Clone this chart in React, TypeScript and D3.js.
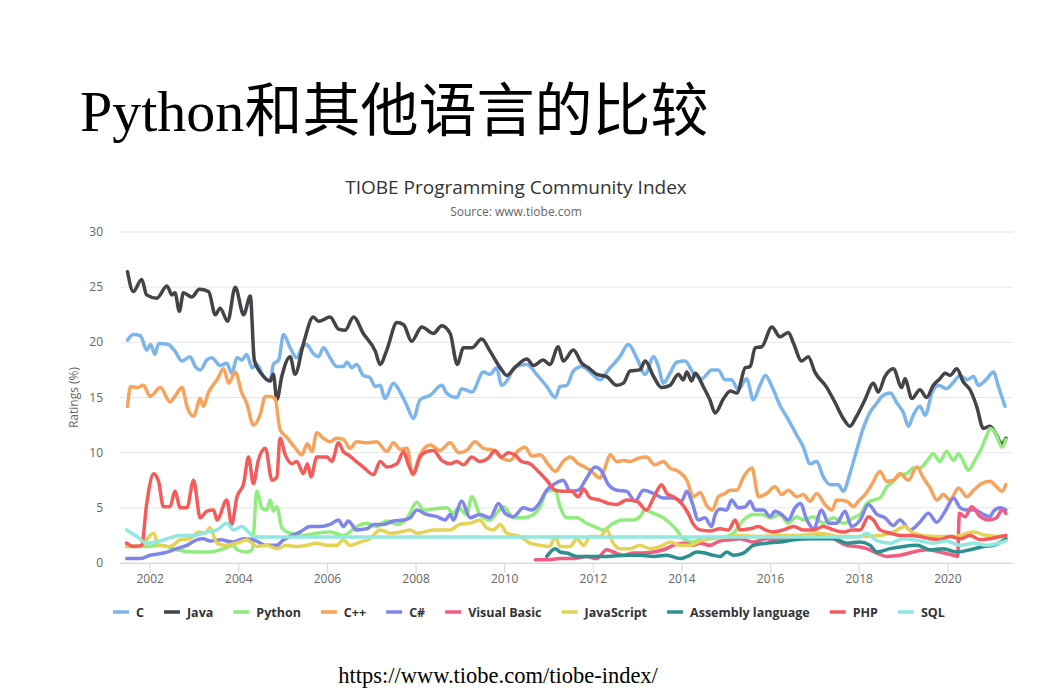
import React from "react";
import * as d3 from "d3";

// TIOBE index readings, [year, rating %]
const cData: [number, number][] = [
  [2001.49, 20.2], [2001.62, 20.7], [2001.78, 20.6], [2001.92, 19.3], [2002.01, 19.8], [2002.11, 18.9],
  [2002.19, 19.9], [2002.41, 19.8], [2002.56, 19.2], [2002.72, 18.3], [2002.9, 18.7], [2003.02, 17.8],
  [2003.13, 17.5], [2003.28, 18.4], [2003.39, 18.6], [2003.58, 17.9], [2003.73, 18.1], [2003.84, 17.2],
  [2003.96, 18.6], [2004.07, 18.4], [2004.18, 18.9], [2004.3, 17.7], [2004.41, 18.0], [2004.56, 16.9],
  [2004.71, 16.5], [2004.78, 18.0], [2004.9, 18.4], [2005.01, 20.7], [2005.16, 19.5], [2005.31, 18.6],
  [2005.42, 19.5], [2005.53, 19.8], [2005.68, 19.0], [2005.8, 18.7], [2005.91, 19.5], [2006.06, 18.6],
  [2006.21, 17.8], [2006.36, 17.8], [2006.44, 18.2], [2006.55, 17.7], [2006.66, 18.0], [2006.81, 17.0],
  [2006.96, 16.8], [2007.08, 16.0], [2007.19, 16.1], [2007.3, 14.9], [2007.49, 16.3], [2007.64, 15.5],
  [2007.79, 14.3], [2007.94, 13.1], [2008.09, 14.8], [2008.32, 15.2], [2008.58, 16.1], [2008.69, 15.4],
  [2008.92, 15.0], [2009.03, 15.8], [2009.26, 15.5], [2009.52, 17.3], [2009.67, 17.1], [2009.82, 17.7],
  [2009.93, 16.1], [2010.08, 16.7], [2010.23, 17.8], [2010.5, 18.0], [2010.72, 17.1], [2010.95, 16.0],
  [2011.14, 15.0], [2011.25, 16.0], [2011.4, 16.1], [2011.55, 17.4], [2011.74, 17.8], [2011.96, 17.2],
  [2012.15, 16.6], [2012.34, 17.5], [2012.6, 18.7], [2012.79, 19.8], [2012.98, 18.6], [2013.17, 17.1],
  [2013.36, 18.7], [2013.47, 17.8], [2013.58, 16.3], [2013.73, 17.2], [2013.88, 18.2], [2014.07, 18.3],
  [2014.26, 17.2], [2014.45, 16.7], [2014.67, 17.5], [2014.82, 17.5], [2014.97, 16.6], [2015.12, 16.6],
  [2015.27, 15.7], [2015.46, 16.7], [2015.61, 14.8], [2015.76, 16.1], [2015.88, 17.0], [2016.03, 16.0],
  [2016.21, 14.3], [2016.4, 13.0], [2016.59, 11.6], [2016.74, 10.5], [2016.89, 9.0], [2017.04, 9.2],
  [2017.19, 7.8], [2017.34, 7.1], [2017.53, 7.1], [2017.64, 6.5], [2017.79, 8.1], [2017.94, 10.2],
  [2018.09, 12.2], [2018.25, 13.7], [2018.4, 14.5], [2018.51, 15.1], [2018.7, 15.4], [2018.85, 14.5],
  [2019.0, 13.6], [2019.11, 12.4], [2019.22, 13.4], [2019.37, 14.2], [2019.49, 13.4], [2019.64, 15.4],
  [2019.79, 16.1], [2019.97, 15.8], [2020.13, 16.4], [2020.28, 17.0], [2020.43, 16.6], [2020.58, 16.9],
  [2020.69, 16.1], [2020.88, 16.7], [2021.03, 17.3], [2021.14, 16.0], [2021.29, 14.2],
];

const javaData: [number, number][] = [
  [2001.49, 26.4], [2001.62, 24.6], [2001.81, 25.7], [2001.92, 24.3], [2002.15, 24.0], [2002.38, 25.1],
  [2002.49, 24.3], [2002.56, 24.5], [2002.66, 22.8], [2002.75, 24.5], [2002.94, 24.1], [2003.11, 24.8],
  [2003.32, 24.6], [2003.47, 22.5], [2003.58, 23.1], [2003.75, 21.9], [2003.92, 25.0], [2004.11, 22.5],
  [2004.26, 24.2], [2004.35, 18.4], [2004.52, 17.1], [2004.71, 16.5], [2004.78, 17.1], [2004.86, 14.8],
  [2004.97, 16.9], [2005.16, 18.7], [2005.27, 17.1], [2005.46, 19.9], [2005.68, 22.3], [2005.8, 21.9],
  [2006.06, 22.3], [2006.25, 21.2], [2006.4, 21.1], [2006.59, 22.3], [2006.81, 20.8], [2007.08, 19.2],
  [2007.19, 18.0], [2007.34, 19.3], [2007.57, 21.8], [2007.72, 21.6], [2007.9, 20.1], [2008.13, 21.4],
  [2008.39, 20.8], [2008.58, 21.5], [2008.77, 20.8], [2008.93, 18.0], [2009.07, 19.5], [2009.26, 19.5],
  [2009.48, 20.3], [2009.67, 19.2], [2009.9, 17.7], [2010.05, 17.0], [2010.23, 17.7], [2010.5, 18.5],
  [2010.65, 17.9], [2010.87, 18.4], [2011.02, 18.0], [2011.21, 19.6], [2011.32, 18.3], [2011.55, 19.3],
  [2011.74, 18.1], [2011.89, 17.7], [2012.08, 17.1], [2012.3, 16.9], [2012.53, 16.1], [2012.68, 16.3],
  [2012.83, 17.4], [2013.05, 17.5], [2013.17, 18.3], [2013.36, 16.9], [2013.54, 15.9], [2013.73, 16.1],
  [2013.92, 17.1], [2014.03, 16.6], [2014.11, 17.3], [2014.22, 16.5], [2014.3, 17.2], [2014.48, 16.0],
  [2014.63, 14.8], [2014.75, 13.6], [2014.94, 14.9], [2015.09, 15.6], [2015.24, 15.4], [2015.43, 17.7],
  [2015.54, 17.8], [2015.65, 19.5], [2015.8, 19.6], [2016.03, 21.4], [2016.21, 20.5], [2016.4, 20.9],
  [2016.52, 19.9], [2016.7, 18.3], [2016.85, 18.7], [2017.0, 17.3], [2017.27, 15.9], [2017.46, 14.5],
  [2017.64, 13.1], [2017.79, 12.4], [2017.94, 13.3], [2018.13, 14.8], [2018.32, 16.3], [2018.43, 15.5],
  [2018.58, 16.9], [2018.77, 17.6], [2018.96, 15.9], [2019.03, 16.7], [2019.19, 14.9], [2019.37, 15.7],
  [2019.52, 15.0], [2019.67, 16.1], [2019.82, 16.7], [2019.94, 17.2], [2020.05, 17.0], [2020.2, 17.6],
  [2020.35, 16.4], [2020.5, 15.7], [2020.65, 14.2], [2020.8, 12.2], [2020.95, 12.4], [2021.1, 11.6],
  [2021.21, 10.8], [2021.31, 11.3],
];

const pythonData: [number, number][] = [
  [2001.47, 1.5], [2001.85, 1.5], [2002.23, 1.6], [2002.6, 1.2], [2002.98, 1.0], [2003.35, 1.0],
  [2003.66, 1.3], [2003.88, 1.6], [2003.96, 1.2], [2004.18, 1.0], [2004.3, 1.2], [2004.41, 6.5],
  [2004.52, 5.0], [2004.63, 4.8], [2004.71, 5.7], [2004.78, 4.7], [2004.86, 5.1], [2004.97, 3.2],
  [2005.16, 2.7], [2005.46, 2.5], [2005.76, 2.7], [2006.06, 2.8], [2006.36, 2.5], [2006.66, 3.3],
  [2006.89, 3.6], [2007.11, 3.3], [2007.34, 3.8], [2007.57, 3.5], [2007.79, 4.0], [2008.02, 5.5],
  [2008.17, 4.8], [2008.39, 4.9], [2008.69, 5.0], [2008.84, 4.5], [2008.96, 5.0], [2009.14, 4.4],
  [2009.26, 6.0], [2009.44, 4.4], [2009.67, 3.9], [2009.82, 4.5], [2009.97, 5.1], [2010.2, 4.1],
  [2010.42, 4.1], [2010.65, 4.4], [2010.8, 5.1], [2010.95, 6.5], [2011.14, 6.6], [2011.25, 5.1],
  [2011.4, 4.1], [2011.63, 4.1], [2011.85, 3.6], [2012.08, 3.2], [2012.23, 3.0], [2012.45, 3.6],
  [2012.68, 3.9], [2012.9, 3.9], [2013.05, 4.2], [2013.17, 4.8], [2013.36, 4.5], [2013.58, 4.1],
  [2013.73, 3.6], [2013.88, 3.0], [2014.03, 2.2], [2014.26, 1.9], [2014.48, 2.3], [2014.71, 2.3],
  [2014.86, 2.3], [2015.16, 2.7], [2015.39, 3.9], [2015.61, 4.4], [2015.8, 4.4], [2015.99, 4.1],
  [2016.21, 4.4], [2016.4, 3.6], [2016.59, 4.2], [2016.74, 3.9], [2016.97, 4.2], [2017.19, 3.6],
  [2017.42, 4.1], [2017.64, 3.6], [2017.87, 4.1], [2018.02, 4.4], [2018.17, 5.4], [2018.32, 5.7],
  [2018.47, 5.9], [2018.62, 6.9], [2018.77, 7.4], [2018.92, 8.0], [2019.07, 8.1], [2019.22, 8.6],
  [2019.37, 8.6], [2019.52, 9.2], [2019.67, 9.9], [2019.82, 9.2], [2019.97, 10.1], [2020.13, 9.3],
  [2020.24, 9.9], [2020.35, 9.2], [2020.46, 8.4], [2020.61, 9.3], [2020.77, 10.5], [2020.88, 11.6],
  [2020.95, 12.2], [2021.07, 11.8], [2021.22, 10.5], [2021.31, 11.2],
];

const cppData: [number, number][] = [
  [2001.49, 14.2], [2001.56, 16.0], [2001.7, 15.9], [2001.85, 16.1], [2002.0, 15.1], [2002.23, 15.9],
  [2002.45, 14.6], [2002.56, 15.1], [2002.72, 15.9], [2002.83, 14.2], [2002.98, 13.3], [2003.13, 14.9],
  [2003.2, 14.2], [2003.32, 15.5], [2003.51, 16.6], [2003.66, 17.6], [2003.77, 16.3], [2003.92, 17.3],
  [2004.07, 15.4], [2004.18, 14.5], [2004.33, 12.5], [2004.48, 13.4], [2004.6, 15.1], [2004.71, 15.1],
  [2004.82, 14.9], [2004.93, 12.1], [2005.08, 11.4], [2005.2, 10.8], [2005.3, 10.3], [2005.42, 9.8],
  [2005.55, 10.8], [2005.65, 10.1], [2005.76, 11.8], [2005.91, 11.3], [2006.06, 11.0], [2006.21, 11.3],
  [2006.36, 11.2], [2006.51, 10.4], [2006.66, 11.0], [2006.89, 10.9], [2007.11, 11.0], [2007.34, 10.1],
  [2007.49, 10.9], [2007.64, 10.3], [2007.8, 10.4], [2007.92, 8.0], [2008.09, 9.8], [2008.32, 10.7],
  [2008.54, 10.2], [2008.77, 10.9], [2008.96, 10.0], [2009.14, 10.2], [2009.33, 11.0], [2009.52, 10.4],
  [2009.75, 10.2], [2009.93, 9.5], [2010.12, 9.3], [2010.31, 10.2], [2010.46, 10.5], [2010.61, 9.7],
  [2010.8, 9.8], [2010.99, 8.9], [2011.14, 8.3], [2011.32, 9.2], [2011.48, 9.6], [2011.66, 9.0],
  [2011.81, 8.7], [2011.96, 8.3], [2012.15, 7.7], [2012.26, 8.6], [2012.38, 9.8], [2012.53, 9.2],
  [2012.68, 9.3], [2012.83, 9.2], [2013.02, 9.5], [2013.2, 9.6], [2013.39, 8.9], [2013.58, 9.2],
  [2013.73, 8.6], [2013.92, 8.3], [2014.11, 7.5], [2014.26, 6.0], [2014.41, 6.4], [2014.56, 5.2],
  [2014.69, 4.8], [2014.82, 6.0], [2014.97, 6.3], [2015.09, 6.6], [2015.24, 6.6], [2015.39, 7.8],
  [2015.58, 8.6], [2015.73, 6.0], [2015.91, 6.3], [2016.1, 6.9], [2016.25, 6.2], [2016.4, 6.6],
  [2016.59, 6.0], [2016.74, 6.2], [2016.89, 5.6], [2017.04, 6.3], [2017.23, 5.3], [2017.38, 4.8],
  [2017.49, 5.7], [2017.72, 5.6], [2017.87, 5.1], [2017.98, 5.6], [2018.13, 6.2], [2018.28, 7.1],
  [2018.47, 8.3], [2018.62, 7.4], [2018.77, 7.5], [2018.92, 8.1], [2019.11, 7.5], [2019.3, 8.7],
  [2019.45, 7.7], [2019.6, 6.8], [2019.75, 5.7], [2019.9, 6.2], [2020.05, 5.7], [2020.24, 6.8],
  [2020.43, 6.0], [2020.58, 6.6], [2020.77, 7.2], [2020.95, 7.4], [2021.1, 6.9], [2021.22, 6.5],
  [2021.31, 7.1],
];

const csharpData: [number, number][] = [
  [2001.47, 0.4], [2001.77, 0.4], [2002.0, 0.7], [2002.3, 0.9], [2002.6, 1.3], [2002.83, 1.6],
  [2003.05, 2.1], [2003.2, 2.2], [2003.35, 2.0], [2003.58, 2.1], [2003.88, 1.9], [2004.11, 2.2],
  [2004.33, 2.1], [2004.63, 1.6], [2004.86, 1.6], [2005.01, 2.1], [2005.2, 2.5], [2005.38, 2.8],
  [2005.61, 3.3], [2005.84, 3.3], [2006.06, 3.5], [2006.25, 3.9], [2006.36, 3.3], [2006.47, 3.8],
  [2006.66, 3.0], [2006.89, 3.1], [2007.04, 3.5], [2007.26, 3.5], [2007.49, 3.8], [2007.72, 3.9],
  [2007.87, 4.1], [2008.02, 4.8], [2008.24, 4.4], [2008.47, 4.2], [2008.66, 3.9], [2008.77, 4.4],
  [2008.84, 3.9], [2009.03, 5.6], [2009.22, 4.1], [2009.44, 4.4], [2009.67, 4.1], [2009.86, 5.4],
  [2010.01, 4.5], [2010.2, 4.2], [2010.42, 5.0], [2010.61, 4.8], [2010.76, 5.3], [2010.95, 6.6],
  [2011.14, 7.2], [2011.32, 7.5], [2011.48, 6.5], [2011.66, 6.6], [2011.85, 7.7], [2012.04, 8.7],
  [2012.19, 8.3], [2012.34, 7.1], [2012.53, 6.6], [2012.75, 6.5], [2012.94, 5.6], [2013.13, 6.6],
  [2013.36, 6.3], [2013.58, 5.9], [2013.81, 5.9], [2013.99, 5.6], [2014.11, 6.5], [2014.22, 5.6],
  [2014.37, 3.9], [2014.52, 4.1], [2014.67, 3.3], [2014.75, 4.4], [2014.86, 4.9], [2015.01, 4.8],
  [2015.12, 5.7], [2015.27, 5.0], [2015.43, 5.1], [2015.54, 5.6], [2015.65, 4.8], [2015.84, 4.8],
  [2015.99, 4.2], [2016.1, 4.7], [2016.25, 4.4], [2016.4, 3.9], [2016.55, 5.0], [2016.67, 5.4],
  [2016.82, 3.9], [2016.97, 3.1], [2017.15, 4.8], [2017.31, 3.6], [2017.49, 3.6], [2017.68, 4.7],
  [2017.83, 3.3], [2018.02, 3.9], [2018.21, 5.3], [2018.4, 4.4], [2018.58, 4.1], [2018.77, 3.4],
  [2018.92, 3.9], [2019.15, 3.0], [2019.37, 3.7], [2019.56, 4.5], [2019.75, 3.7], [2019.94, 4.7],
  [2020.13, 5.9], [2020.28, 5.0], [2020.43, 4.8], [2020.61, 4.8], [2020.8, 4.4], [2020.95, 4.2],
  [2021.03, 4.7], [2021.18, 5.0], [2021.31, 4.8],
];

const vbData: [number, number][] = [
  [2010.69, 0.3], [2010.95, 0.3], [2011.25, 0.4], [2011.55, 0.4], [2011.85, 0.6], [2012.08, 0.4],
  [2012.3, 1.2], [2012.45, 1.0], [2012.68, 0.7], [2012.9, 0.9], [2013.13, 0.9], [2013.36, 1.0],
  [2013.58, 1.2], [2013.81, 1.6], [2014.03, 1.8], [2014.26, 1.6], [2014.41, 1.8], [2014.63, 1.6],
  [2014.86, 2.0], [2015.09, 2.1], [2015.31, 2.2], [2015.61, 1.9], [2015.91, 2.2], [2016.21, 2.1],
  [2016.52, 2.4], [2016.82, 2.2], [2017.12, 2.4], [2017.42, 2.2], [2017.72, 1.6], [2017.94, 1.5],
  [2018.17, 1.3], [2018.4, 0.9], [2018.62, 0.6], [2018.92, 0.7], [2019.22, 1.0], [2019.52, 1.2],
  [2019.82, 1.0], [2020.13, 0.7], [2020.22, 0.6], [2020.26, 4.5], [2020.39, 4.2], [2020.54, 5.1],
  [2020.73, 4.2], [2020.92, 3.9], [2021.1, 4.1], [2021.22, 4.8], [2021.31, 4.5],
];

const jsData: [number, number][] = [
  [2001.47, 1.6], [2001.77, 1.5], [2002.08, 2.7], [2002.19, 1.6], [2002.45, 1.5], [2002.68, 2.1],
  [2002.9, 2.2], [2003.09, 2.8], [2003.24, 2.7], [2003.35, 3.2], [2003.51, 1.8], [2003.69, 1.6],
  [2003.96, 1.8], [2004.18, 2.1], [2004.41, 1.5], [2004.63, 1.6], [2004.86, 1.3], [2005.08, 1.6],
  [2005.31, 1.5], [2005.53, 1.6], [2005.76, 1.8], [2005.99, 1.6], [2006.21, 1.6], [2006.36, 2.1],
  [2006.51, 1.6], [2006.74, 1.9], [2006.96, 2.2], [2007.19, 3.0], [2007.42, 2.7], [2007.64, 2.8],
  [2007.87, 3.0], [2008.02, 2.7], [2008.39, 3.0], [2008.77, 3.0], [2008.99, 3.5], [2009.22, 3.6],
  [2009.44, 3.9], [2009.59, 3.2], [2009.75, 3.0], [2009.9, 3.5], [2010.05, 2.7], [2010.35, 2.4],
  [2010.57, 1.8], [2010.8, 1.6], [2011.02, 1.5], [2011.14, 2.4], [2011.25, 1.5], [2011.48, 1.5],
  [2011.63, 2.2], [2011.78, 1.6], [2011.93, 2.4], [2012.15, 2.4], [2012.3, 3.0], [2012.45, 1.8],
  [2012.6, 1.3], [2012.83, 1.3], [2013.05, 1.6], [2013.28, 1.3], [2013.51, 1.5], [2013.73, 1.9],
  [2013.96, 1.6], [2014.18, 1.6], [2014.41, 2.0], [2014.86, 2.3], [2015.31, 2.5], [2015.76, 2.4],
  [2016.21, 2.5], [2016.66, 2.5], [2017.12, 2.7], [2017.57, 2.4], [2018.02, 2.4], [2018.47, 2.5],
  [2018.77, 2.8], [2019.03, 3.3], [2019.22, 2.7], [2019.67, 2.4], [2020.13, 2.4], [2020.58, 2.8],
  [2020.88, 2.5], [2021.31, 2.4],
];

const asmData: [number, number][] = [
  [2010.95, 0.6], [2011.14, 1.3], [2011.25, 1.0], [2011.4, 0.9], [2011.63, 0.6], [2011.93, 0.6],
  [2012.3, 0.6], [2012.75, 0.7], [2013.05, 0.7], [2013.36, 0.6], [2013.66, 0.7], [2013.96, 0.4],
  [2014.18, 0.7], [2014.33, 1.0], [2014.52, 0.9], [2014.71, 0.7], [2014.86, 0.6], [2015.01, 1.0],
  [2015.16, 0.7], [2015.39, 0.9], [2015.61, 1.6], [2015.91, 1.8], [2016.21, 1.9], [2016.52, 2.1],
  [2016.82, 2.2], [2017.12, 2.2], [2017.42, 2.2], [2017.72, 1.8], [2018.02, 1.9], [2018.25, 1.6],
  [2018.4, 1.0], [2018.7, 1.3], [2019.0, 1.5], [2019.3, 1.6], [2019.6, 1.2], [2019.9, 1.3],
  [2020.2, 1.0], [2020.5, 1.2], [2020.8, 1.5], [2021.03, 1.6], [2021.31, 2.2],
];

const phpData: [number, number][] = [
  [2001.47, 1.8], [2001.62, 1.5], [2001.81, 1.6], [2001.92, 5.3], [2002.08, 8.1], [2002.19, 7.4],
  [2002.3, 5.1], [2002.45, 5.1], [2002.56, 6.5], [2002.68, 5.0], [2002.83, 5.0], [2002.98, 7.5],
  [2003.13, 4.1], [2003.28, 4.7], [2003.43, 4.8], [2003.51, 3.9], [2003.73, 5.7], [2003.84, 3.5],
  [2003.96, 6.0], [2004.11, 7.2], [2004.22, 9.6], [2004.33, 7.2], [2004.44, 9.3], [2004.6, 10.4],
  [2004.75, 7.5], [2004.86, 7.8], [2004.93, 11.3], [2005.05, 9.8], [2005.2, 9.0], [2005.31, 9.2],
  [2005.46, 8.1], [2005.55, 9.0], [2005.63, 7.8], [2005.76, 9.6], [2005.99, 9.6], [2006.1, 9.2],
  [2006.25, 10.9], [2006.36, 10.1], [2006.47, 9.8], [2006.62, 9.3], [2006.81, 8.7], [2007.04, 8.0],
  [2007.19, 9.2], [2007.34, 8.7], [2007.57, 9.0], [2007.72, 10.1], [2007.82, 9.0], [2007.94, 8.1],
  [2008.09, 9.6], [2008.24, 10.1], [2008.39, 10.2], [2008.58, 9.3], [2008.77, 9.0], [2008.92, 9.2],
  [2009.07, 8.9], [2009.26, 9.6], [2009.44, 9.2], [2009.63, 9.5], [2009.78, 10.2], [2009.93, 9.6],
  [2010.08, 10.0], [2010.23, 9.8], [2010.38, 9.2], [2010.57, 9.0], [2010.76, 8.3], [2010.95, 7.5],
  [2011.14, 6.6], [2011.32, 6.5], [2011.51, 6.5], [2011.66, 6.0], [2011.78, 6.7], [2011.93, 5.9],
  [2012.15, 5.7], [2012.34, 5.4], [2012.53, 5.3], [2012.75, 5.7], [2012.98, 5.6], [2013.2, 4.8],
  [2013.36, 5.9], [2013.54, 7.1], [2013.66, 6.3], [2013.81, 6.0], [2013.99, 5.4], [2014.14, 4.5],
  [2014.26, 3.5], [2014.41, 3.0], [2014.63, 2.9], [2014.86, 3.1], [2015.05, 3.0], [2015.2, 3.9],
  [2015.31, 3.0], [2015.54, 3.1], [2015.73, 3.3], [2015.88, 3.0], [2016.06, 2.8], [2016.29, 3.0],
  [2016.52, 3.3], [2016.74, 3.0], [2016.97, 3.0], [2017.19, 3.3], [2017.42, 3.0], [2017.64, 2.8],
  [2017.83, 3.0], [2018.02, 3.0], [2018.21, 4.2], [2018.32, 3.9], [2018.47, 3.0], [2018.7, 2.7],
  [2018.92, 2.5], [2019.15, 2.5], [2019.37, 2.4], [2019.6, 2.2], [2019.82, 2.1], [2020.05, 2.4],
  [2020.28, 2.2], [2020.5, 2.5], [2020.73, 2.1], [2020.95, 2.2], [2021.18, 2.4], [2021.31, 2.5],
];

const sqlData: [number, number][] = [
  [2001.47, 3.0], [2001.7, 2.4], [2001.92, 1.8], [2002.15, 1.9], [2002.38, 2.2], [2002.68, 2.5],
  [2002.98, 2.5], [2003.28, 2.8], [2003.51, 3.0], [2003.73, 3.6], [2003.88, 3.0], [2004.07, 3.3],
  [2004.22, 2.8], [2004.33, 2.4], [2004.45, 2.35], [2018.0, 2.35], [2018.17, 2.7], [2018.4, 2.0],
  [2018.7, 1.8], [2019.0, 2.2], [2019.37, 2.0], [2019.67, 1.8], [2019.97, 2.0], [2020.28, 1.6],
  [2020.58, 1.8], [2020.88, 1.6], [2021.31, 2.0],
];

const seriesNames = ["C", "Java", "Python", "C++", "C#", "Visual Basic", "JavaScript", "Assembly language", "PHP", "SQL"];
const seriesValues = [cData, javaData, pythonData, cppData, csharpData, vbData, jsData, asmData, phpData, sqlData];
const colors = ["#7cb5ec", "#434348", "#90ed7d", "#f7a35c", "#8085e9", "#f15c80", "#e4d354", "#2b908f", "#f45b5b", "#91e8e1"];

const xTicks = [2002, 2004, 2006, 2008, 2010, 2012, 2014, 2016, 2018, 2020];
const yTicks = [0, 5, 10, 15, 20, 25, 30];

const FONT = "'Open Sans', 'DejaVu Sans', sans-serif";

function measure(text: string, font: string) {
  const ctx = document.createElement("canvas").getContext("2d");
  if (!ctx) return text.length * 7;
  ctx.font = font;
  return ctx.measureText(text).width;
}

export default function App() {
  const left = 120;
  const right = 1013;
  const top = 232;
  const bottom = 563;

  const x = d3.scaleLinear().domain([2001.32, 2021.47]).range([left, right]);
  const y = d3.scaleLinear().domain([0, 30]).range([bottom, top]);

  const line = d3
    .line<[number, number]>()
    .x(d => x(d[0]))
    .y(d => y(d[1]))
    .curve(d3.curveMonotoneX);

  // legend layout, left to right
  let lx = 113;
  const legendItems = seriesNames.map((name, i) => {
    const item = { name, color: colors[i], x: lx };
    lx += 16 + 7 + measure(name, `bold 12.5px ${FONT}`) + 20;
    return item;
  });

  return (
    <div style={{ position: "absolute", left: 0, top: 0 }}>
      <svg width={1042} height={695} style={{ display: "block", background: "#fff" }}>
        <text x={80} y={131} fill="#000" fontSize={58}>
          <tspan fontFamily="'Liberation Serif', serif">Python</tspan>
          <tspan fontFamily="'Noto Sans CJK SC', sans-serif">和其他语言的比较</tspan>
        </text>

        <text x={516} y={194} textAnchor="middle" fontFamily={FONT} fontSize={19} fill="#333333">
          TIOBE Programming Community Index
        </text>
        <text x={516} y={216} textAnchor="middle" fontFamily={FONT} fontSize={12} fill="#666666">
          Source: www.tiobe.com
        </text>

        {yTicks.map(v => (
          <g key={v}>
            <line x1={left} x2={right} y1={y(v)} y2={y(v)} stroke="#e6e6e6" strokeWidth={1} />
            <text x={103} y={y(v) + 4} textAnchor="end" fontFamily={FONT} fontSize={12} fill="#666666">
              {v}
            </text>
          </g>
        ))}

        <text
          transform={`translate(78, ${(top + bottom) / 2}) rotate(-90)`}
          textAnchor="middle"
          fontFamily={FONT}
          fontSize={12}
          fill="#666666"
        >
          Ratings (%)
        </text>

        <line x1={left} x2={right} y1={bottom + 0.5} y2={bottom + 0.5} stroke="#ccd6eb" />
        {xTicks.map(v => (
          <g key={v} transform={`translate(${x(v)}, ${bottom})`}>
            <line y1={0} y2={10} stroke="#ccd6eb" />
            <text y={20} textAnchor="middle" fontFamily={FONT} fontSize={12} fill="#666666">
              {v}
            </text>
          </g>
        ))}

        <g fill="none" strokeWidth={3.5} strokeLinejoin="round" strokeLinecap="round">
          {seriesValues.map((d, i) => (
            <path key={seriesNames[i]} d={line(d) || ""} stroke={colors[i]} />
          ))}
        </g>

        {legendItems.map(it => (
          <g key={it.name} transform={`translate(${it.x}, 612)`}>
            <line x1={0} x2={16} y1={0} y2={0} stroke={it.color} strokeWidth={3.5} />
            <text x={23} y={4.5} fontFamily={FONT} fontSize={12.5} fontWeight="bold" fill="#333333">
              {it.name}
            </text>
          </g>
        ))}

        <text x={498} y={683} textAnchor="middle" fontFamily="'Liberation Serif', serif" fontSize={22.5} fill="#000">
          https://www.tiobe.com/tiobe-index/
        </text>
      </svg>
    </div>
  );
}
